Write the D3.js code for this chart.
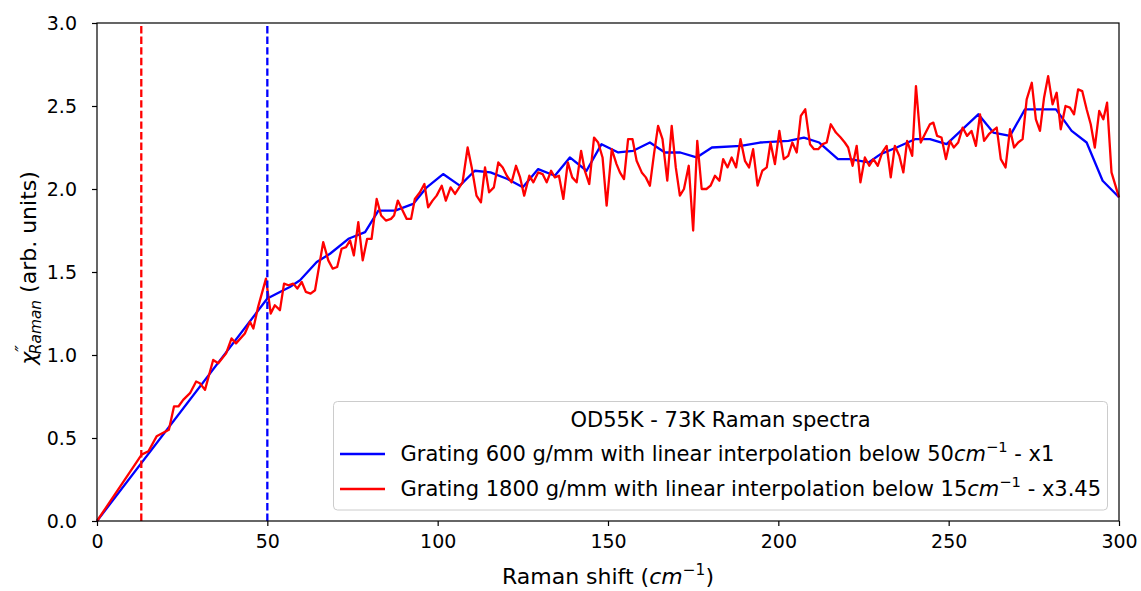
<!DOCTYPE html>
<html><head><meta charset="utf-8">
<script src="https://cdn.jsdelivr.net/npm/d3@7"></script>
<style>body{margin:0;background:#fff;} svg{display:block;font-family:"DejaVu Sans",sans-serif;}</style>
</head><body>
<svg id="chart" width="1141" height="591"></svg>
<script>
const xTicks = [0, 50, 100, 150, 200, 250, 300];
const yTicks = [0.0, 0.5, 1.0, 1.5, 2.0, 2.5, 3.0];
const cutoffRed = 13;
const cutoffBlue = 50;
const legendTitle = "OD55K - 73K Raman spectra";
const seriesNames = ["Grating 600 g/mm with linear interpolation below 50", "Grating 1800 g/mm with linear interpolation below 15"];
const seriesSuffix = [" - x1", " - x3.45"];
const seriesColors = ["#0000ff", "#ff0000"];

const blueX = [0,50,53.7,56.6,59.6,64.5,68.4,73.8,78.7,82.6,87.5,92.8,96.8,101.6,106.5,110.9,115.5,120.5,125,129.5,134.4,138.8,143.7,148.1,153,157.4,162.3,166.7,171.2,176,180.5,189,194.6,203,207.5,212,217.5,221,226.5,230,234.7,240.1,244.5,249.4,258.7,263.1,268,272.4,277.3,281.5,286.1,290.5,295.2,300];
const blueY = [0,1.34,1.38,1.41,1.45,1.56,1.61,1.70,1.74,1.87,1.87,1.91,2.01,2.09,2.02,2.11,2.10,2.06,2.01,2.12,2.08,2.19,2.11,2.27,2.22,2.23,2.28,2.22,2.22,2.19,2.25,2.26,2.28,2.29,2.31,2.28,2.18,2.18,2.16,2.21,2.25,2.30,2.30,2.27,2.45,2.34,2.32,2.48,2.48,2.48,2.35,2.28,2.05,1.95];

const redX = [0,13.1,15.1,17.5,21.1,22.6,23.9,25.3,27.3,29.1,30.2,31.7,34.1,35.6,37.9,39.5,40.8,43.4,44.9,45.9,47.3,49.6,51.0,52.2,53.7,54.9,56.2,57.6,58.8,60.1,61.3,62.7,64.0,66.4,67.9,69.2,70.5,71.8,73.1,74.3,75.4,76.7,78.0,79.3,80.6,82.1,83.4,84.8,86.3,87.2,88.3,89.7,90.9,92.2,93.3,94.8,96.1,97.2,98.5,99.7,101.2,102.4,103.8,105.1,107.3,108.8,110.0,111.4,112.7,113.9,115.1,116.5,117.8,119.1,120.3,121.7,123.0,124.2,125.4,126.9,128.1,129.5,130.8,132.0,133.3,134.4,135.6,136.9,138.2,139.5,140.8,142.1,143.2,144.5,145.9,147.1,148.4,149.6,151.1,152.5,153.5,154.7,155.9,157.2,158.4,159.9,161.1,162.3,163.5,164.7,166.0,167.4,168.7,169.9,171.1,172.3,173.7,175.0,176.2,177.5,178.9,180.1,181.4,182.7,183.8,185.1,186.3,187.6,188.9,190.2,191.4,192.6,193.9,195.3,196.6,197.7,199.0,200.3,201.6,202.9,204.1,205.4,206.6,207.9,209.3,210.5,211.7,213.0,214.2,215.4,216.9,218.3,219.5,220.5,221.8,223.0,224.1,225.4,226.7,227.9,229.2,230.5,231.8,233.0,234.2,235.5,236.7,237.8,239.3,240.4,241.8,243.0,244.5,245.5,246.6,247.9,249.2,250.4,251.5,252.8,254.1,255.4,256.7,258.0,259.2,260.4,261.8,262.9,264.1,265.3,266.7,268.0,269.2,270.4,271.7,272.9,274.4,275.6,276.8,278.0,279.2,280.5,281.7,282.9,284.3,285.6,286.8,288.0,289.2,290.5,291.7,292.9,294.2,295.4,296.5,297.8,300];
const redY = [0,0.40,0.42,0.51,0.55,0.69,0.69,0.73,0.77,0.84,0.83,0.79,0.97,0.95,1.01,1.10,1.07,1.13,1.20,1.16,1.29,1.46,1.25,1.30,1.27,1.43,1.42,1.43,1.40,1.44,1.38,1.37,1.39,1.68,1.57,1.52,1.53,1.64,1.65,1.69,1.60,1.80,1.57,1.70,1.70,1.94,1.84,1.81,1.82,1.84,1.93,1.87,1.82,1.82,1.94,1.98,2.03,1.89,1.93,1.96,2.02,1.93,2.01,1.97,2.04,2.25,2.13,1.96,1.92,2.13,1.98,2.01,2.16,2.13,2.08,2.04,2.14,2.07,1.96,2.08,2.04,2.10,2.09,2.04,2.11,2.07,2.08,1.94,2.16,2.07,2.04,2.23,2.11,2.03,2.31,2.28,2.19,1.90,2.24,2.15,2.10,2.06,2.30,2.30,2.17,2.10,2.07,2.02,2.21,2.38,2.30,2.05,2.38,2.13,1.96,2.00,2.14,1.75,2.29,2.00,2.00,2.02,2.08,2.05,2.18,2.13,2.19,2.13,2.30,2.17,2.13,2.24,2.02,2.11,2.13,2.28,2.15,2.35,2.18,2.20,2.28,2.22,2.44,2.48,2.27,2.24,2.24,2.27,2.28,2.39,2.34,2.31,2.28,2.25,2.14,2.26,2.04,2.19,2.14,2.18,2.14,2.22,2.26,2.07,2.26,2.20,2.10,2.29,2.20,2.62,2.28,2.33,2.39,2.40,2.32,2.31,2.18,2.29,2.25,2.28,2.37,2.32,2.35,2.26,2.45,2.29,2.33,2.35,2.37,2.18,2.13,2.36,2.25,2.28,2.30,2.54,2.64,2.42,2.35,2.55,2.68,2.51,2.58,2.36,2.50,2.49,2.45,2.60,2.59,2.48,2.39,2.25,2.47,2.42,2.52,2.10,1.95];

const svg = d3.select("#chart");
const L = 97, R = 1119, T = 23, B = 521;
const x = d3.scaleLinear().domain([0, 300]).range([L, R]);
const y = d3.scaleLinear().domain([0, 3]).range([B, T]);

const TICK_FS = 19, LAB_FS = 22, LEG_FS = 21;
const LW = 2.3;

// data lines
const line = d3.line().x(d => x(d[0])).y(d => y(d[1]));
const blue = blueX.map((v, i) => [v, blueY[i]]);
const red = redX.map((v, i) => [v, redY[i]]);
svg.append("path").datum(blue).attr("d", line).attr("fill", "none").attr("stroke", seriesColors[0]).attr("stroke-width", LW).attr("stroke-linejoin", "round");
svg.append("path").datum(red).attr("d", line).attr("fill", "none").attr("stroke", seriesColors[1]).attr("stroke-width", LW).attr("stroke-linejoin", "round");

// dashed cutoffs
svg.append("line").attr("x1", x(cutoffRed)).attr("x2", x(cutoffRed)).attr("y1", y(0)).attr("y2", y(3))
  .attr("stroke", seriesColors[1]).attr("stroke-width", LW).attr("stroke-dasharray", "7.4,3.2");
svg.append("line").attr("x1", x(cutoffBlue)).attr("x2", x(cutoffBlue)).attr("y1", y(0)).attr("y2", y(3))
  .attr("stroke", seriesColors[0]).attr("stroke-width", LW).attr("stroke-dasharray", "7.4,3.2");

// axes
const xAxis = d3.axisBottom(x).tickValues(xTicks).tickSize(5).tickPadding(9).tickFormat(d3.format("d"));
const yAxis = d3.axisLeft(y).tickValues(yTicks).tickSize(5).tickPadding(15).tickFormat(d3.format(".1f"));
const gx = svg.append("g").attr("transform", `translate(0,${B})`).call(xAxis);
const gy = svg.append("g").attr("transform", `translate(${L},0)`).call(yAxis);
[gx, gy].forEach(g => {
  g.selectAll("text").attr("font-size", TICK_FS).attr("font-family", "DejaVu Sans").attr("fill", "#000");
  g.selectAll("line").attr("stroke", "#000").attr("stroke-width", 1.2);
  g.select(".domain").remove();
});
// frame
svg.append("rect").attr("x", L).attr("y", T).attr("width", R - L).attr("height", B - T)
  .attr("fill", "none").attr("stroke", "#000").attr("stroke-width", 1.2);

// x label
const xl = svg.append("text").attr("x", (L + R) / 2).attr("y", 584).attr("text-anchor", "middle").attr("font-size", LAB_FS);
xl.append("tspan").text("Raman shift (");
xl.append("tspan").attr("font-style", "italic").text("cm");
xl.append("tspan").attr("font-size", LAB_FS * 0.7).attr("dy", -9).text("−1");
xl.append("tspan").attr("dy", 9).text(")");

// y label
const yl = svg.append("text").attr("transform", `translate(36,268) rotate(-90)`).attr("text-anchor", "middle").attr("font-size", LAB_FS);
yl.append("tspan").attr("font-style", "italic").text("χ");
yl.append("tspan").attr("font-size", LAB_FS * 0.8).attr("dy", -8).attr("font-style", "italic").text("″");
yl.append("tspan").attr("font-size", LAB_FS * 0.7).attr("dy", 13).attr("dx", -9).attr("font-style", "italic").text("Raman");
yl.append("tspan").attr("dy", -5).text(" (arb. units)");

// legend
const lg = svg.append("g");
lg.append("rect").attr("x", 333.5).attr("y", 401.5).attr("width", 774).attr("height", 108.5).attr("rx", 4)
  .attr("fill", "#fff").attr("fill-opacity", 0.8).attr("stroke", "#cccccc").attr("stroke-width", 1);
lg.append("text").attr("x", 720.5).attr("y", 427).attr("text-anchor", "middle").attr("font-size", LEG_FS).text(legendTitle);
const rowY = [454, 489];
seriesNames.forEach((name, i) => {
  lg.append("line").attr("x1", 340).attr("x2", 385).attr("y1", rowY[i]).attr("y2", rowY[i])
    .attr("stroke", seriesColors[i]).attr("stroke-width", LW);
  const t = lg.append("text").attr("x", 400.5).attr("y", rowY[i] + 6.5).attr("font-size", LEG_FS);
  t.append("tspan").text(name);
  t.append("tspan").attr("font-style", "italic").text("cm");
  t.append("tspan").attr("font-size", LEG_FS * 0.7).attr("dy", -9).text("−1");
  t.append("tspan").attr("dy", 9).text(seriesSuffix[i]);
});
</script>
</body></html>
